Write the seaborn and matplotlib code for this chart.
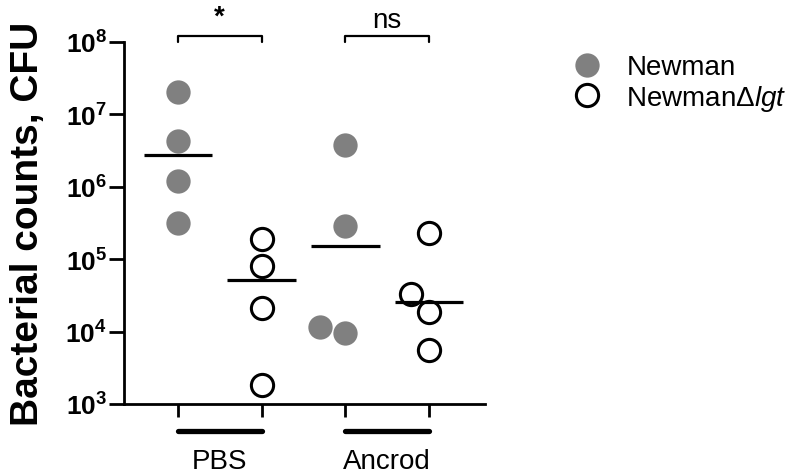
import numpy as np
import pandas as pd
import matplotlib
matplotlib.use("Agg")
import matplotlib.pyplot as plt
import matplotlib.transforms as mtransforms
from matplotlib.lines import Line2D
import seaborn as sns

# Dados
treatments = ["PBS", "Ancrod"]
strains = ["Newman", "NewmanΔlgt"]
pbs_newman = [2.0e7, 4.3e6, 1.2e6, 3.1e5]
pbs_lgt = [1.9e5, 8.1e4, 2.1e4, 1.8e3]
ancrod_newman = [3.8e6, 2.9e5, 1.15e4, 9.6e3]
ancrod_lgt = [2.3e5, 3.3e4, 1.85e4, 5.5e3]
sig_labels = ["*", "ns"]
ytick_exp = [3, 4, 5, 6, 7, 8]

series = {
    ("PBS", "Newman"): pbs_newman,
    ("PBS", "NewmanΔlgt"): pbs_lgt,
    ("Ancrod", "Newman"): ancrod_newman,
    ("Ancrod", "NewmanΔlgt"): ancrod_lgt,
}
rows = []
for (trt, st), vals in series.items():
    for v in vals:
        rows.append({"group": trt + "|" + st, "treatment": trt, "strain": st, "cfu": v})
df = pd.DataFrame(rows)
order = [t + "|" + s for t in treatments for s in strains]

sns.set_style("ticks")
plt.rcParams["font.family"] = ["Liberation Sans", "DejaVu Sans"]
plt.rcParams["mathtext.fontset"] = "custom"
plt.rcParams["mathtext.rm"] = "Liberation Sans"
plt.rcParams["mathtext.bf"] = "Liberation Sans:bold"
plt.rcParams["mathtext.it"] = "Liberation Sans:italic"
for k in ["text.color", "axes.labelcolor", "xtick.color", "ytick.color", "axes.edgecolor"]:
    plt.rcParams[k] = "black"

fig, ax = plt.subplots(figsize=(7.99, 4.77), dpi=100)
fig.subplots_adjust(left=0.155, right=0.607, bottom=0.151, top=0.9105)

grey = "#808080"
sns.swarmplot(data=df[df.strain == "Newman"], x="group", y="cfu", order=order,
              color=grey, size=17.5, linewidth=0, log_scale=True, ax=ax, zorder=3)
sns.swarmplot(data=df[df.strain == "NewmanΔlgt"], x="group", y="cfu", order=order,
              color="white", edgecolor="black", size=16, linewidth=2.2, ax=ax, zorder=3)

# linhas de mediana
med = df.groupby("group")["cfu"].median().reindex(order)
xs = np.arange(len(order))
ax.hlines(med.values, xs - 0.41, xs + 0.41, color="black", lw=2.3, zorder=5)

ax.set_yscale("log")
ax.set_ylim(1e3, 1e8)
ax.set_xlim(-0.645, 3.67)
ax.set_yticks([10.0 ** e for e in ytick_exp])
ax.set_yticklabels([r"$\mathbf{10^{%d}}$" % e for e in ytick_exp], fontsize=19)
ax.yaxis.set_minor_locator(matplotlib.ticker.NullLocator())
ax.set_xticks(xs)
ax.set_xticklabels([])
ax.set_xlabel("")
ax.set_ylabel("Bacterial counts, CFU", fontsize=28, fontweight="bold")
ax.yaxis.set_label_coords(-0.215, 0.5)

for sp in ["top", "right"]:
    ax.spines[sp].set_visible(False)
for sp in ["left", "bottom"]:
    ax.spines[sp].set_linewidth(2.0)
ax.tick_params(axis="y", length=11, width=2.0, pad=1)
ax.tick_params(axis="x", length=9.5, width=2.0)

# barras dos grupos e rotulos
trans = mtransforms.blended_transform_factory(ax.transData, ax.transAxes)
for i, trt in enumerate(treatments):
    x0, x1 = 2 * i, 2 * i + 1
    ax.plot([x0, x1], [-0.075, -0.075], transform=trans, color="black", lw=3.8,
            solid_capstyle="round", clip_on=False)
    ax.text((x0 + x1) / 2, -0.157, trt, transform=trans, ha="center", va="center", fontsize=20)

    # colchetes de significancia
    ytop = 10 ** 8.083
    ax.plot([x0, x0, x1, x1], [1e8, ytop, ytop, 1e8], color="black", lw=1.6, clip_on=False)
    ax.text((x0 + x1) / 2, 10 ** (8.34 if sig_labels[i] == "*" else 8.3), sig_labels[i],
            ha="center", va="center", fontsize=20,
            fontweight="bold" if sig_labels[i] == "*" else "normal")

handles = [
    Line2D([], [], marker="o", ls="", markersize=17.5, markerfacecolor=grey, markeredgewidth=0),
    Line2D([], [], marker="o", ls="", markersize=16, markerfacecolor="white",
           markeredgecolor="black", markeredgewidth=2.2),
]
fig.legend(handles, ["Newman", r"Newman$\Delta$$\mathit{lgt}$"], loc="upper left",
           bbox_to_anchor=(0.717, 0.884), frameon=False, fontsize=20, borderpad=0,
           borderaxespad=0, handlelength=1.0, handletextpad=0.93, labelspacing=0.08)

plt.savefig("out.png", dpi=100)
